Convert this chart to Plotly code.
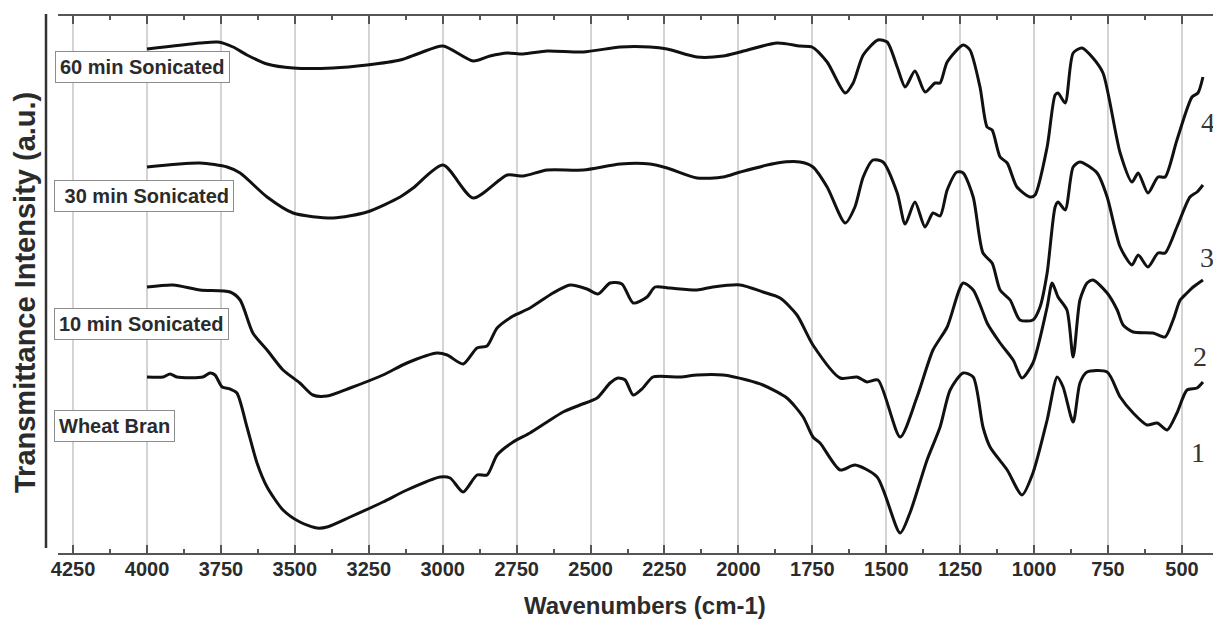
import plotly.graph_objects as go

# ---------------- data (wavenumber cm-1, transmittance a.u.) ----------------
wn_60 = [4000, 3821, 3760, 3709, 3662, 3594, 3506, 3371, 3256, 3144, 3077, 2999, 2897, 2840, 2782,
         2728, 2647, 2525, 2400, 2299, 2241, 2140, 2052, 1994, 1869, 1792, 1751, 1700, 1639, 1612,
         1578, 1528, 1497, 1463, 1436, 1403, 1369, 1335, 1318, 1294, 1240, 1217, 1183, 1159, 1142,
         1115, 1091, 1058, 1014, 997, 956, 929, 919, 895, 868, 838, 801, 767, 709, 669, 648, 615,
         581, 557, 517, 466, 446, 429]
t_60 = [503, 509, 510, 505, 497, 488, 484, 484, 487, 492, 499, 506, 491, 496, 499,
        498, 501, 500, 505, 505, 503, 495, 496, 500, 509, 506, 505, 490, 459, 469,
        497, 512, 510, 485, 465, 481, 460, 469, 469, 490, 507, 502, 465, 425, 422,
        395, 389, 365, 355, 357, 405, 457, 459, 449, 499, 504, 494, 479, 399, 370, 379, 359,
        375, 375, 412, 455, 459, 475]

wn_30 = [4000, 3821, 3729, 3685, 3594, 3506, 3371, 3256, 3144, 3100, 2999, 2897, 2782, 2728, 2647,
         2525, 2400, 2299, 2241, 2140, 2052, 1994, 1869, 1792, 1748, 1700, 1639, 1606, 1578, 1545,
         1511, 1463, 1436, 1403, 1369, 1342, 1318, 1294, 1261, 1240, 1206, 1173, 1142, 1115, 1081,
         1048, 1004, 980, 956, 929, 919, 895, 868, 845, 787, 753, 709, 669, 648, 615, 581, 557,
         517, 473, 449, 429]
t_30 = [385, 389, 385, 379, 355, 339, 334, 340, 355, 364, 387, 354, 377, 376, 382,
        382, 388, 388, 384, 374, 375, 380, 389, 390, 385, 365, 329, 345, 375, 392,
        390, 359, 328, 350, 325, 339, 336, 362, 380, 379, 355, 299, 289, 262, 252,
        232, 232, 245, 279, 345, 350, 342, 385, 390, 379, 355, 305, 287, 297, 285, 299, 299,
        325, 355, 360, 367]

wn_10 = [4000, 3912, 3821, 3719, 3685, 3642, 3594, 3540, 3483, 3439, 3391, 3313, 3202, 3121, 3019,
         2985, 2931, 2884, 2850, 2816, 2762, 2705, 2627, 2569, 2512, 2475, 2434, 2394, 2356, 2309,
         2282, 2231, 2140, 2086, 1994, 1917, 1859, 1802, 1748, 1656, 1599, 1565, 1528, 1453, 1396,
         1342, 1294, 1240, 1206, 1176, 1159, 1115, 1071, 1041, 1004, 956, 939, 919, 889, 868, 845,
         821, 801, 753, 719, 699, 665, 598, 557, 530, 506, 483, 462, 429]
t_10 = [265, 267, 262, 260, 252, 219, 202, 182, 169, 157, 156, 164, 177, 189, 199,
        197, 188, 204, 206, 224, 236, 244, 259, 267, 263, 258, 269, 268, 249, 255,
        265, 264, 262, 265, 267, 260, 254, 237, 207, 174, 175, 170, 172, 115, 155,
        202, 225, 269, 262, 242, 229, 209, 192, 174, 189, 245, 269, 255, 242, 195, 252,
        269, 272, 259, 242, 227, 220, 219, 215, 232, 252, 259, 265, 272]

wn_wb = [4000, 3946, 3922, 3899, 3811, 3787, 3770, 3746, 3719, 3696, 3662, 3628, 3594, 3540, 3483,
         3425, 3391, 3313, 3202, 3121, 3009, 2975, 2931, 2884, 2850, 2816, 2762, 2705, 2647, 2593,
         2536, 2478, 2434, 2407, 2383, 2356, 2323, 2289, 2197, 2140, 2052, 1971, 1917, 1836, 1781,
         1748, 1724, 1656, 1606, 1531, 1453, 1420, 1362, 1318, 1284, 1240, 1206, 1173, 1149, 1091,
         1041, 1004, 956, 922, 902, 868, 845, 821, 753, 709, 665, 618, 584, 550, 517, 483, 449, 429]
t_wb = [175, 175, 178, 175, 175, 179, 177, 165, 163, 159, 125, 89, 65, 42, 30,
        24, 25, 35, 50, 62, 75, 74, 60, 77, 77, 97, 110, 119, 130, 140,
        147, 154, 169, 174, 172, 157, 164, 175, 175, 177, 177, 172, 167, 154, 135,
        115, 109, 82, 87, 75, 19, 39, 92, 125, 162, 179, 175, 125, 105, 82,
        57, 79, 132, 175, 165, 130, 169, 180, 180, 155, 139, 127, 129, 122, 139, 162, 164, 170]

sample_names = ["60 min Sonicated", "\u00a030 min Sonicated", "10 min Sonicated", "Wheat Bran"]
curve_numbers = ["4", "3", "2", "1"]
tick_values = [4250, 4000, 3750, 3500, 3250, 3000, 2750, 2500, 2250, 2000, 1750, 1500, 1250, 1000, 750, 500]
x_title = "Wavenumbers (cm-1)"
y_title = "Transmittance Intensity (a.u.)"

series = [(wn_60, t_60), (wn_30, t_30), (wn_10, t_10), (wn_wb, t_wb)]

# ---------------- layout geometry (page offset of 8px body margin) ----------------
OFF = 8
PLOT_L, PLOT_T, PLOT_B, PLOT_R = 58, 16, 553, 1221   # page pixels
W, H = PLOT_R - OFF, 626 - OFF
ML, MT = PLOT_L - OFF, PLOT_T - OFF
MB = H - (PLOT_B - OFF)
MR = 0
PW, PH = PLOT_R - PLOT_L, PLOT_B - PLOT_T


def px(xp):
    return (xp - PLOT_L) / PW


def py(yp):
    return (PLOT_B - yp) / PH


fig = go.Figure()
for (wn, tr), name in zip(series, sample_names):
    fig.add_trace(go.Scatter(x=wn, y=tr, mode="lines", name=name.strip("\u00a0"),
                             line=dict(color="#111111", width=3, shape="spline", smoothing=0.7),
                             showlegend=False, hoverinfo="x+y+name"))

bold = dict(family="Liberation Sans, Arial, sans-serif", color="#2b2b2b", weight="bold")

fig.update_layout(
    width=W, height=H,
    margin=dict(l=ML, r=MR, t=MT, b=MB, pad=0),
    paper_bgcolor="white", plot_bgcolor="white",
    showlegend=False,
    xaxis=dict(
        range=[4301, 368], tickmode="array", tickvals=tick_values,
        ticktext=[str(v) for v in tick_values],
        showgrid=True, gridcolor="#d4d4d4", gridwidth=1.5,
        showline=True, linecolor="#555555", linewidth=2, mirror="ticks",
        ticks="inside", ticklen=8, tickwidth=1.5, tickcolor="#555555",
        minor=dict(tickmode="linear", tick0=125, dtick=250, ticks="inside", ticklen=4,
                   tickwidth=1.5, tickcolor="#555555", showgrid=False),
        tickfont=dict(size=20, **bold), ticklabelstandoff=-3,
        zeroline=False,
    ),
    yaxis=dict(
        range=[-1, 536], showgrid=False, showline=False, showticklabels=False, ticks="",
        zeroline=False,
    ),
)

# axis titles
fig.add_annotation(text=x_title, xref="paper", yref="paper", x=px(645), y=py(605),
                   xanchor="center", yanchor="middle", showarrow=False,
                   font=dict(size=24, **bold))
fig.add_annotation(text=y_title, xref="paper", yref="paper", x=px(25), y=py(293),
                   xanchor="center", yanchor="middle", showarrow=False, textangle=-90,
                   font=dict(size=29, **bold))

# separate left axis line
fig.add_shape(type="line", xref="paper", yref="paper", x0=px(46), x1=px(46), y0=py(548), y1=py(14),
              line=dict(color="#333333", width=2.5))

# sample label boxes
label_centers = [67, 195.5, 324.5, 426]
label_left = [55, 54, 54, 54]
for name, yc, xl in zip(sample_names, label_centers, label_left):
    fig.add_annotation(text=name, xref="paper", yref="paper", x=px(xl), y=py(yc),
                       xanchor="left", yanchor="middle", showarrow=False,
                       font=dict(size=20, **bold), bordercolor="#8c8c8c", borderwidth=1,
                       borderpad=4, bgcolor="white")

# curve numbers at right
num_pos = [(1208, 122), (1207, 258), (1200, 356), (1198, 452)]
for num, (xn, yn) in zip(curve_numbers, num_pos):
    fig.add_annotation(text=num, xref="paper", yref="paper", x=px(xn), y=py(yn),
                       xanchor="center", yanchor="middle", showarrow=False,
                       font=dict(size=28, family="Liberation Serif, Times New Roman, serif", color="#333333"))

fig.write_html("out.html", post_script="document.body.style.overflow='hidden';")
